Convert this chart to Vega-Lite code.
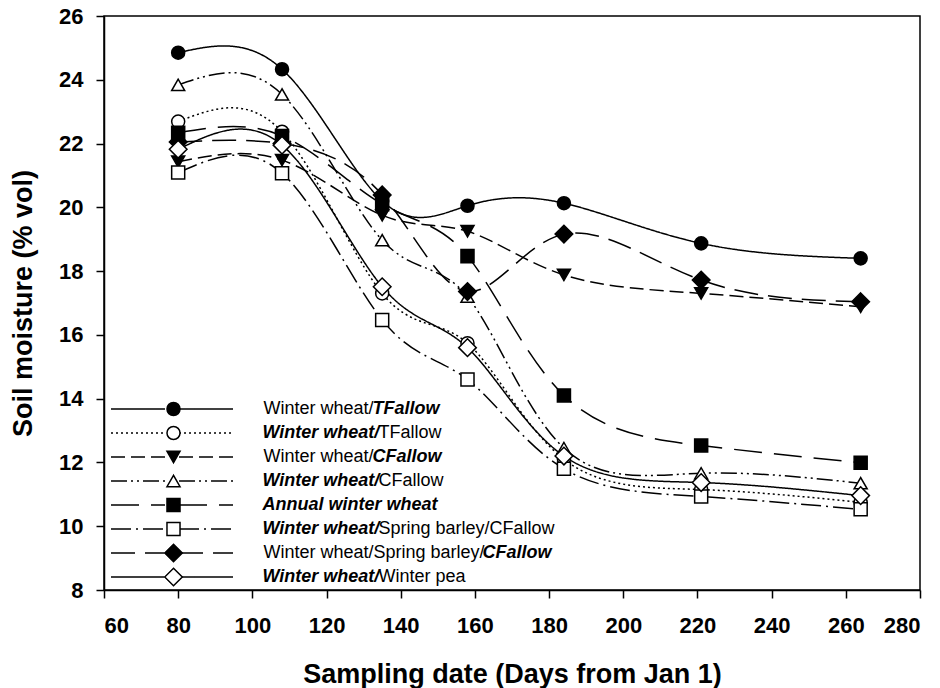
{
  "$schema": "https://vega.github.io/schema/vega-lite/v6.json",
  "width": 816,
  "height": 574,
  "autosize": {"type": "none"},
  "padding": {"left": 104, "top": 16, "right": 20, "bottom": 98},
  "background": "white",
  "config": {
    "font": "Liberation Sans",
    "view": {"stroke": "black", "strokeWidth": 1.5},
    "axis": {
      "grid": false,
      "domainColor": "black",
      "domainWidth": 1.5,
      "tickColor": "black",
      "tickWidth": 1.5,
      "tickSize": 8,
      "labelFont": "Liberation Sans",
      "labelFontSize": 22,
      "labelFontWeight": "bold",
      "labelColor": "black",
      "titleFont": "Liberation Sans",
      "titleFontSize": 27,
      "titleFontWeight": "bold",
      "titleColor": "black"
    }
  },
  "data": {
    "values": [
      {"series": "1 Winter wheat/TFallow (TFallow phase)", "day": 80, "moisture": 24.85},
      {"series": "1 Winter wheat/TFallow (TFallow phase)", "day": 108, "moisture": 24.33},
      {"series": "1 Winter wheat/TFallow (TFallow phase)", "day": 135, "moisture": 20.2},
      {"series": "1 Winter wheat/TFallow (TFallow phase)", "day": 158, "moisture": 20.05},
      {"series": "1 Winter wheat/TFallow (TFallow phase)", "day": 184, "moisture": 20.13},
      {"series": "1 Winter wheat/TFallow (TFallow phase)", "day": 221, "moisture": 18.87},
      {"series": "1 Winter wheat/TFallow (TFallow phase)", "day": 264, "moisture": 18.4},
      {"series": "2 Winter wheat/TFallow (winter wheat phase)", "day": 80, "moisture": 22.69},
      {"series": "2 Winter wheat/TFallow (winter wheat phase)", "day": 108, "moisture": 22.37},
      {"series": "2 Winter wheat/TFallow (winter wheat phase)", "day": 135, "moisture": 17.3},
      {"series": "2 Winter wheat/TFallow (winter wheat phase)", "day": 158, "moisture": 15.74},
      {"series": "2 Winter wheat/TFallow (winter wheat phase)", "day": 184, "moisture": 12.1},
      {"series": "2 Winter wheat/TFallow (winter wheat phase)", "day": 221, "moisture": 11.15},
      {"series": "2 Winter wheat/TFallow (winter wheat phase)", "day": 264, "moisture": 10.75},
      {"series": "3 Winter wheat/CFallow (CFallow phase)", "day": 80, "moisture": 21.43},
      {"series": "3 Winter wheat/CFallow (CFallow phase)", "day": 108, "moisture": 21.48},
      {"series": "3 Winter wheat/CFallow (CFallow phase)", "day": 135, "moisture": 19.75},
      {"series": "3 Winter wheat/CFallow (CFallow phase)", "day": 158, "moisture": 19.25},
      {"series": "3 Winter wheat/CFallow (CFallow phase)", "day": 184, "moisture": 17.88},
      {"series": "3 Winter wheat/CFallow (CFallow phase)", "day": 221, "moisture": 17.3},
      {"series": "3 Winter wheat/CFallow (CFallow phase)", "day": 264, "moisture": 16.88},
      {"series": "4 Winter wheat/CFallow (winter wheat phase)", "day": 80, "moisture": 23.84},
      {"series": "4 Winter wheat/CFallow (winter wheat phase)", "day": 108, "moisture": 23.54},
      {"series": "4 Winter wheat/CFallow (winter wheat phase)", "day": 135, "moisture": 18.97},
      {"series": "4 Winter wheat/CFallow (winter wheat phase)", "day": 158, "moisture": 17.2},
      {"series": "4 Winter wheat/CFallow (winter wheat phase)", "day": 184, "moisture": 12.45},
      {"series": "4 Winter wheat/CFallow (winter wheat phase)", "day": 221, "moisture": 11.66},
      {"series": "4 Winter wheat/CFallow (winter wheat phase)", "day": 264, "moisture": 11.35},
      {"series": "5 Annual winter wheat", "day": 80, "moisture": 22.34},
      {"series": "5 Annual winter wheat", "day": 108, "moisture": 22.24},
      {"series": "5 Annual winter wheat", "day": 135, "moisture": 20.1},
      {"series": "5 Annual winter wheat", "day": 158, "moisture": 18.47},
      {"series": "5 Annual winter wheat", "day": 184, "moisture": 14.1},
      {"series": "5 Annual winter wheat", "day": 221, "moisture": 12.53},
      {"series": "5 Annual winter wheat", "day": 264, "moisture": 11.99},
      {"series": "6 Winter wheat/Spring barley/CFallow (winter wheat phase)", "day": 80, "moisture": 21.09},
      {"series": "6 Winter wheat/Spring barley/CFallow (winter wheat phase)", "day": 108, "moisture": 21.07},
      {"series": "6 Winter wheat/Spring barley/CFallow (winter wheat phase)", "day": 135, "moisture": 16.47},
      {"series": "6 Winter wheat/Spring barley/CFallow (winter wheat phase)", "day": 158, "moisture": 14.6},
      {"series": "6 Winter wheat/Spring barley/CFallow (winter wheat phase)", "day": 184, "moisture": 11.8},
      {"series": "6 Winter wheat/Spring barley/CFallow (winter wheat phase)", "day": 221, "moisture": 10.93},
      {"series": "6 Winter wheat/Spring barley/CFallow (winter wheat phase)", "day": 264, "moisture": 10.53},
      {"series": "7 Winter wheat/Spring barley/CFallow (CFallow phase)", "day": 80, "moisture": 22.05},
      {"series": "7 Winter wheat/Spring barley/CFallow (CFallow phase)", "day": 108, "moisture": 22.0},
      {"series": "7 Winter wheat/Spring barley/CFallow (CFallow phase)", "day": 135, "moisture": 20.39},
      {"series": "7 Winter wheat/Spring barley/CFallow (CFallow phase)", "day": 158, "moisture": 17.36},
      {"series": "7 Winter wheat/Spring barley/CFallow (CFallow phase)", "day": 184, "moisture": 19.16},
      {"series": "7 Winter wheat/Spring barley/CFallow (CFallow phase)", "day": 221, "moisture": 17.72},
      {"series": "7 Winter wheat/Spring barley/CFallow (CFallow phase)", "day": 264, "moisture": 17.04},
      {"series": "8 Winter wheat/Winter pea (winter wheat phase)", "day": 80, "moisture": 21.82},
      {"series": "8 Winter wheat/Winter pea (winter wheat phase)", "day": 108, "moisture": 21.95},
      {"series": "8 Winter wheat/Winter pea (winter wheat phase)", "day": 135, "moisture": 17.51},
      {"series": "8 Winter wheat/Winter pea (winter wheat phase)", "day": 158, "moisture": 15.6},
      {"series": "8 Winter wheat/Winter pea (winter wheat phase)", "day": 184, "moisture": 12.2},
      {"series": "8 Winter wheat/Winter pea (winter wheat phase)", "day": 221, "moisture": 11.37},
      {"series": "8 Winter wheat/Winter pea (winter wheat phase)", "day": 264, "moisture": 10.96}
    ]
  },
  "encoding": {
    "x": {
      "field": "day", "type": "quantitative",
      "scale": {"domain": [60, 280], "nice": false, "zero": false},
      "axis": {"values": [60, 80, 100, 120, 140, 160, 180, 200, 220, 240, 260, 280], "labelPadding": 17, "titlePadding": 25, "title": "Sampling date (Days from Jan 1)"}
    },
    "y": {
      "field": "moisture", "type": "quantitative",
      "scale": {"domain": [8, 26], "nice": false, "zero": false},
      "axis": {"values": [8, 10, 12, 14, 16, 18, 20, 22, 24, 26], "labelPadding": 13, "titlePadding": 21, "title": "Soil moisture (% vol)"}
    }
  },
  "layer": [
    {
      "mark": {"type": "line", "interpolate": "natural", "stroke": "black", "color": "black", "strokeWidth": 1.5},
      "encoding": {
        "strokeDash": {
          "field": "series", "type": "nominal",
          "scale": {
            "domain": [
              "1 Winter wheat/TFallow (TFallow phase)",
              "2 Winter wheat/TFallow (winter wheat phase)",
              "3 Winter wheat/CFallow (CFallow phase)",
              "4 Winter wheat/CFallow (winter wheat phase)",
              "5 Annual winter wheat",
              "6 Winter wheat/Spring barley/CFallow (winter wheat phase)",
              "7 Winter wheat/Spring barley/CFallow (CFallow phase)",
              "8 Winter wheat/Winter pea (winter wheat phase)"
            ],
            "range": [[1, 0], [2, 3], [14, 6], [16, 4, 2, 4, 2, 4], [28, 12], [20, 5, 2, 5], [24, 10], [1, 0]]
          },
          "legend": {
            "orient": "none",
            "legendX": 6,
            "legendY": 381,
            "title": null,
            "padding": 0,
            "rowPadding": 0,
            "clipHeight": 24,
            "symbolType": "M-1,0L-0.115,0M0.115,0L1,0",
            "symbolSize": 14884,
            "symbolStrokeColor": "black",
            "symbolStrokeWidth": 1.5,
            "symbolFillColor": "transparent",
            "labelOffset": 29.5,
            "labelLimit": 0,
            "labelFont": "Liberation Sans",
            "labelFontSize": 18,
            "labelFontWeight": "normal",
            "labelColor": "black",
            "labelBaseline": "middle",
            "labelExpr": "slice(datum.label,0,1)=='1'?'Winter wheat/':slice(datum.label,0,1)=='2'?'\u200b'+pad('TFallow',30,'\u00a0','left'):slice(datum.label,0,1)=='3'?'Winter wheat/':slice(datum.label,0,1)=='4'?'\u200b'+pad('CFallow',30,'\u00a0','left'):slice(datum.label,0,1)=='5'?'':slice(datum.label,0,1)=='6'?'\u200b'+pad('Spring barley/CFallow',44,'\u00a0','left'):slice(datum.label,0,1)=='7'?'Winter wheat/Spring barley/':'\u200b'+pad('Winter pea',33,'\u00a0','left')"
          }
        }
      }
    },
    {
      "mark": {"type": "point", "filled": true, "stroke": "black", "strokeWidth": 1.5, "size": 170, "opacity": 1},
      "encoding": {
        "shape": {
          "field": "series", "type": "nominal",
          "scale": {"range": ["circle", "circle", "triangle-down", "triangle-up", "square", "square", "M0,-1.35L1.35,0L0,1.35L-1.35,0Z", "M0,-1.35L1.35,0L0,1.35L-1.35,0Z"]},
          "legend": {
            "orient": "none",
            "legendX": 60.5,
            "legendY": 381,
            "title": null,
            "padding": 0,
            "rowPadding": 0,
            "clipHeight": 24,
            "symbolSize": 170,
            "symbolStrokeColor": "black",
            "symbolStrokeWidth": 1.5,
            "symbolOpacity": 1,
            "labelOffset": 80,
            "labelLimit": 0,
            "labelFont": "Liberation Sans",
            "labelFontSize": 18,
            "labelFontWeight": "bold",
            "labelFontStyle": "italic",
            "labelColor": "black",
            "labelBaseline": "middle",
            "encode": {"symbols": {"update": {"stroke": {"value": "black"}, "strokeWidth": {"value": 1.5}}}},
            "labelExpr": "slice(datum.label,0,1)=='1'?'\u200b'+pad('TFallow',29,'\u00a0','left'):slice(datum.label,0,1)=='3'?'\u200b'+pad('CFallow',29,'\u00a0','left'):slice(datum.label,0,1)=='5'?'Annual winter wheat':slice(datum.label,0,1)=='7'?'\u200b'+pad('CFallow',51,'\u00a0','left'):'Winter wheat/'"
          }
        },
        "fill": {
          "field": "series", "type": "nominal",
          "scale": {"range": ["black", "white", "black", "white", "black", "white", "black", "white"]},
          "legend": {
            "orient": "none",
            "legendX": 60.5,
            "legendY": 381,
            "title": null,
            "padding": 0,
            "rowPadding": 0,
            "clipHeight": 24,
            "symbolSize": 170,
            "symbolStrokeColor": "black",
            "symbolStrokeWidth": 1.5,
            "symbolOpacity": 1,
            "labelOffset": 80,
            "labelLimit": 0,
            "labelFont": "Liberation Sans",
            "labelFontSize": 18,
            "labelFontWeight": "bold",
            "labelFontStyle": "italic",
            "labelColor": "black",
            "labelBaseline": "middle",
            "encode": {"symbols": {"update": {"stroke": {"value": "black"}, "strokeWidth": {"value": 1.5}}}},
            "labelExpr": "slice(datum.label,0,1)=='1'?'\u200b'+pad('TFallow',29,'\u00a0','left'):slice(datum.label,0,1)=='3'?'\u200b'+pad('CFallow',29,'\u00a0','left'):slice(datum.label,0,1)=='5'?'Annual winter wheat':slice(datum.label,0,1)=='7'?'\u200b'+pad('CFallow',51,'\u00a0','left'):'Winter wheat/'"
          }
        }
      }
    }
  ]
}
